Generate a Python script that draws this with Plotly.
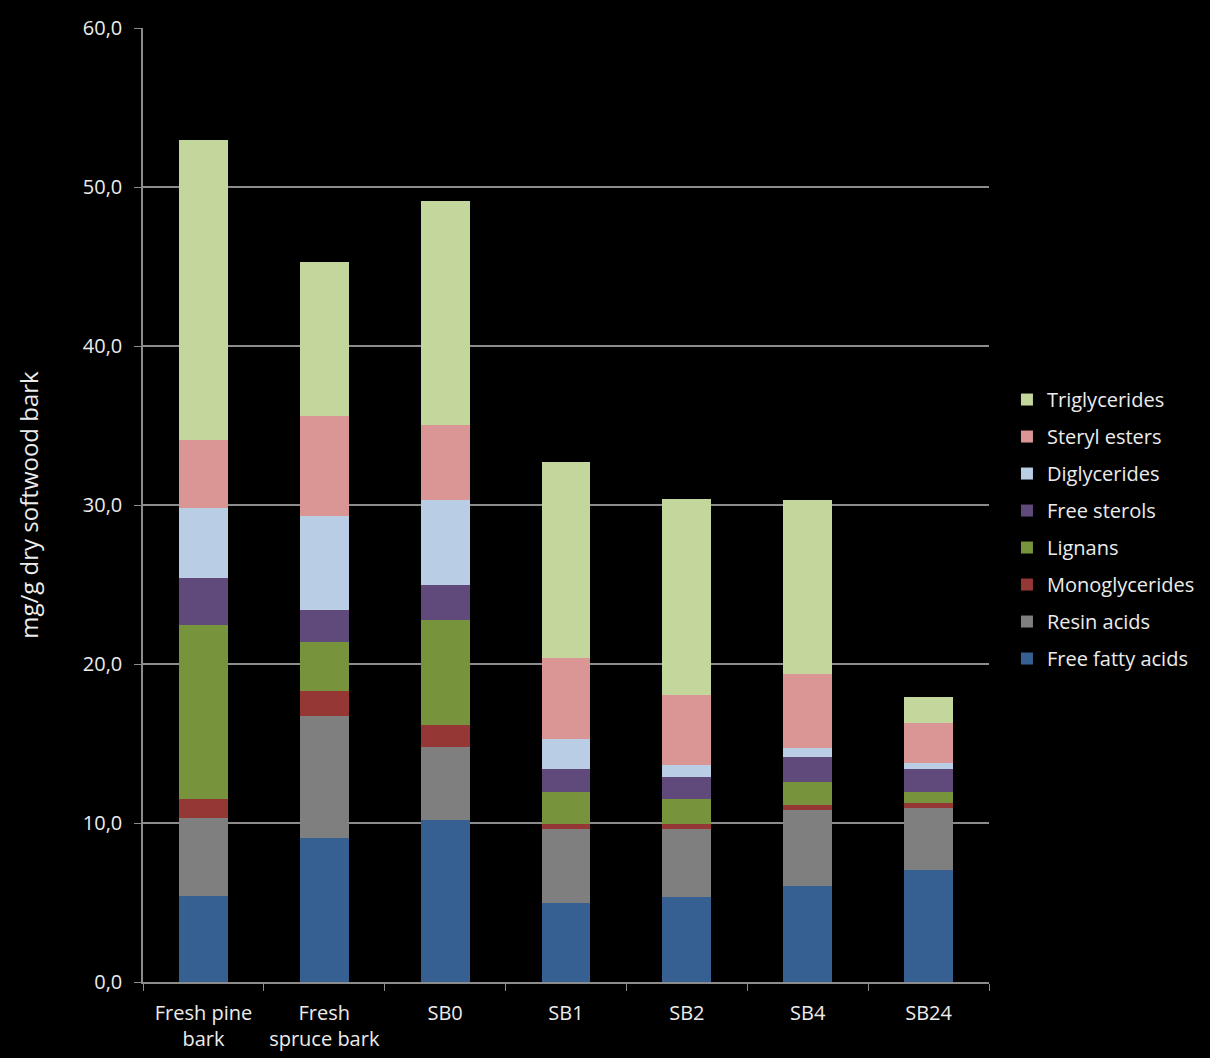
import plotly.graph_objects as go

categories = ["Fresh pine<br>bark", "Fresh<br>spruce bark", "SB0", "SB1", "SB2", "SB4", "SB24"]

free_fatty_acids = [5.41, 9.06, 10.19, 4.97, 5.35, 6.04, 7.04]
resin_acids      = [4.90, 7.67, 4.59, 4.65, 4.27, 4.78, 3.90]
monoglycerides   = [1.20, 1.57, 1.38, 0.32, 0.32, 0.31, 0.32]
lignans          = [10.94, 3.08, 6.61, 2.01, 1.57, 1.45, 0.69]
free_sterols     = [2.96, 2.02, 2.20, 1.45, 1.38, 1.57, 1.45]
diglycerides     = [4.40, 5.91, 5.34, 1.88, 0.76, 0.57, 0.37]
steryl_esters    = [4.28, 6.29, 4.72, 5.10, 4.40, 4.65, 2.52]
triglycerides    = [18.87, 9.68, 14.09, 12.32, 12.33, 10.94, 1.63]

series = [
    ("Free fatty acids", free_fatty_acids, "#376092"),
    ("Resin acids", resin_acids, "#7f7f7f"),
    ("Monoglycerides", monoglycerides, "#953735"),
    ("Lignans", lignans, "#77933c"),
    ("Free sterols", free_sterols, "#604a7b"),
    ("Diglycerides", diglycerides, "#b9cde5"),
    ("Steryl esters", steryl_esters, "#d99694"),
    ("Triglycerides", triglycerides, "#c3d69b"),
]

txt = "#ececec"
font_family = "Open Sans, Liberation Sans, sans-serif"

fig = go.Figure()
n = len(series)
for i, (name, vals, color) in enumerate(series):
    fig.add_trace(go.Bar(
        x=categories, y=vals, name=name, legendgroup=name,
        legendrank=100 + (n - i),
        marker=dict(color=color, line=dict(width=0)),
    ))

fig.update_layout(
    barmode="stack",
    bargap=0.595,
    width=1210, height=1058,
    paper_bgcolor="black", plot_bgcolor="black",
    margin=dict(l=143, r=221, t=28, b=76, autoexpand=False),
    font=dict(family=font_family, color=txt, size=20),
    separators=",.",
    showlegend=True,
    legend=dict(
        xref="container", yref="container",
        x=0.8322, xanchor="left", y=0.6408, yanchor="top",
        traceorder="grouped", tracegroupgap=8,
        font=dict(size=20, color=txt), bgcolor="rgba(0,0,0,0)",
    ),
    yaxis=dict(
        range=[0, 60], dtick=10, tickformat=".1f",
        showgrid=True, gridcolor="#8c8c8c", gridwidth=1.5,
        showline=True, linecolor="#8c8c8c", linewidth=1.5,
        ticks="outside", ticklen=7, tickcolor="#8c8c8c",
        ticklabelstandoff=8, automargin=False,
        zeroline=False,
        title=dict(text="mg/g dry softwood bark", font=dict(size=24, color=txt), standoff=37),
        tickfont=dict(size=20, color=txt),
    ),
    xaxis=dict(
        showline=True, linecolor="#8c8c8c", linewidth=1.5,
        ticks="outside", ticklen=7, tickcolor="#8c8c8c",
        tickson="boundaries", showgrid=False,
        ticklabelstandoff=12, automargin=False,
        tickfont=dict(size=20, color=txt),
    ),
)

fig.write_html(
    "out.html",
    config={"displayModeBar": False},
    post_script="document.body.style.margin='0';document.body.style.background='black';document.documentElement.style.background='black';",
)
